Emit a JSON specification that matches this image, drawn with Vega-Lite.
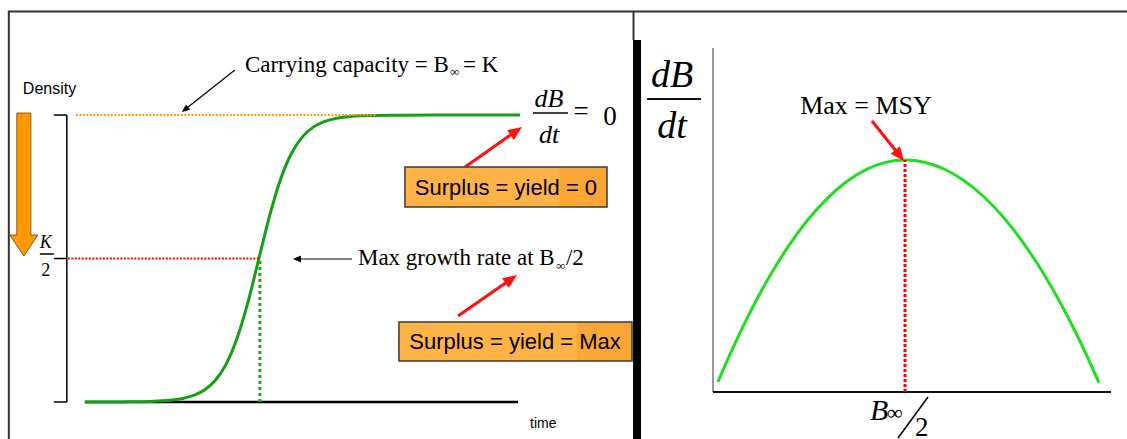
{
  "$schema": "https://vega.github.io/schema/vega-lite/v6.json",
  "width": 1127,
  "height": 439,
  "padding": 0,
  "autosize": {"type": "none"},
  "background": "white",
  "config": {"view": {"stroke": null}},
  "resolve": {"scale": {"x": "independent", "y": "independent"}},
  "layer": [
    {
      "encoding": {
        "x": {"field": "x", "type": "quantitative", "scale": {"domain": [-1.95, 23.95], "nice": false, "zero": false}, "axis": null},
        "y": {"field": "y", "type": "quantitative", "scale": {"domain": [-12.9, 140.1], "nice": false, "zero": false}, "axis": null}
      },
      "layer": [
        {
          "data": {"values": [
            {"x": -1.77, "y": 136.06, "x2": 23.95, "y2": 136.06},
            {"x": -1.747, "y": 136.06, "x2": -1.747, "y2": -12.9},
            {"x": 12.609, "y": 136.06, "x2": 12.609, "y2": 126.13}
          ]},
          "mark": {"type": "rule", "color": "#333333", "strokeWidth": 2},
          "encoding": {"x2": {"field": "x2"}, "y2": {"field": "y2"}}
        },
        {
          "data": {"values": [{"x": 12.598, "x2": 12.782, "y": 126.13, "y2": -12.9}]},
          "mark": {"type": "rect", "color": "black"},
          "encoding": {"x2": {"field": "x2"}, "y2": {"field": "y2"}}
        },
        {
          "data": {"values": [
            {"x": -0.414, "y": 0, "x2": -0.414, "y2": 100},
            {"x": -0.713, "y": 0, "x2": -0.414, "y2": 0},
            {"x": -0.713, "y": 50, "x2": -0.414, "y2": 50},
            {"x": -0.713, "y": 100, "x2": -0.414, "y2": 100},
            {"x": -1.034, "y": 51.57, "x2": -0.713, "y2": 51.57},
            {"x": 10.299, "y": 100.7, "x2": 11.103, "y2": 100.7}
          ]},
          "mark": {"type": "rule", "color": "black", "strokeWidth": 1.5},
          "encoding": {"x2": {"field": "x2"}, "y2": {"field": "y2"}}
        },
        {
          "data": {"values": [{"x": 0, "y": 0, "x2": 9.954, "y2": 0}]},
          "mark": {"type": "rule", "color": "black", "strokeWidth": 2.5},
          "encoding": {"x2": {"field": "x2"}, "y2": {"field": "y2"}}
        },
        {
          "data": {"values": [
            {"x": 0, "y": 0.005}, {"x": 0.5, "y": 0.016}, {"x": 1, "y": 0.055}, {"x": 1.5, "y": 0.19},
            {"x": 2, "y": 0.67}, {"x": 2.25, "y": 1.24}, {"x": 2.5, "y": 2.3}, {"x": 2.75, "y": 4.21},
            {"x": 3, "y": 7.59}, {"x": 3.25, "y": 13.3}, {"x": 3.5, "y": 22.27}, {"x": 3.75, "y": 34.87},
            {"x": 4, "y": 50}, {"x": 4.25, "y": 65.13}, {"x": 4.5, "y": 77.73}, {"x": 4.75, "y": 86.7},
            {"x": 5, "y": 92.41}, {"x": 5.25, "y": 95.79}, {"x": 5.5, "y": 97.7}, {"x": 5.75, "y": 98.76},
            {"x": 6, "y": 99.33}, {"x": 6.5, "y": 99.81}, {"x": 7, "y": 99.94}, {"x": 8, "y": 100},
            {"x": 9, "y": 100}, {"x": 10, "y": 100}
          ]},
          "mark": {"type": "line", "color": "#14a014", "strokeWidth": 3, "interpolate": "monotone"}
        },
        {
          "data": {"values": [{"x": -0.207, "y": 100, "x2": 6.713, "y2": 100}]},
          "mark": {"type": "rule", "color": "#ff9a00", "strokeWidth": 2, "strokeDash": [2, 1.5]},
          "encoding": {"x2": {"field": "x2"}, "y2": {"field": "y2"}}
        },
        {
          "data": {"values": [{"x": -0.391, "y": 50, "x2": 4.023, "y2": 50}]},
          "mark": {"type": "rule", "color": "#ff0000", "strokeWidth": 2, "strokeDash": [2, 1.5]},
          "encoding": {"x2": {"field": "x2"}, "y2": {"field": "y2"}}
        },
        {
          "data": {"values": [{"x": 4.023, "y": 0, "x2": 4.023, "y2": 50}]},
          "mark": {"type": "rule", "color": "#1aab1a", "strokeWidth": 3, "strokeDash": [3, 3]},
          "encoding": {"x2": {"field": "x2"}, "y2": {"field": "y2"}}
        },
        {
          "data": {"values": [
            {"x": 3.448, "y": 115.68, "x2": 2.301, "y2": 101.92},
            {"x": 6.138, "y": 49.83, "x2": 4.874, "y2": 49.83}
          ]},
          "mark": {"type": "rule", "color": "black", "strokeWidth": 1.2},
          "encoding": {"x2": {"field": "x2"}, "y2": {"field": "y2"}}
        },
        {
          "data": {"values": [{"x": 2.301, "y": 101.92}]},
          "mark": {"type": "point", "shape": "M0,-1L0.85,1L-0.85,1Z", "size": 64, "filled": true, "color": "black", "opacity": 1, "angle": 231.6}
        },
        {
          "data": {"values": [{"x": 4.874, "y": 49.83}]},
          "mark": {"type": "point", "shape": "M0,-1L0.85,1L-0.85,1Z", "size": 64, "filled": true, "color": "black", "opacity": 1, "angle": 270}
        },
        {
          "data": {"values": [
            {"x": 8.736, "y": 81.88, "x2": 9.915, "y2": 94.43},
            {"x": 8.575, "y": 29.97, "x2": 9.799, "y2": 42.86}
          ]},
          "mark": {"type": "rule", "color": "#ff1111", "strokeWidth": 3},
          "encoding": {"x2": {"field": "x2"}, "y2": {"field": "y2"}}
        },
        {
          "data": {"values": [{"x": 9.915, "y": 94.43}, {"x": 9.799, "y": 42.86}]},
          "mark": {"type": "point", "shape": "M0,-1L0.85,1L-0.85,1Z", "size": 196, "filled": true, "color": "#ff1111", "opacity": 1, "angle": 55}
        },
        {
          "data": {"values": [{"x": -1.402, "y": 75.78}]},
          "mark": {"type": "point", "shape": "M-0.098,-1L0.098,-1L0.098,0.706L0.196,0.706L0,1L-0.196,0.706L-0.098,0.706Z", "size": 20449, "filled": true, "fill": "#ff9900", "stroke": "#8a5a10", "strokeWidth": 1, "opacity": 1}
        },
        {
          "data": {"values": [
            {"x": 7.356, "x2": 12.0, "y": 81.88, "y2": 67.94},
            {"x": 7.218, "x2": 12.575, "y": 27.87, "y2": 14.29}
          ]},
          "mark": {"type": "rect", "fill": {"gradient": "linear", "stops": [{"offset": 0, "color": "#ffb245"}, {"offset": 0.76, "color": "#ffb245"}, {"offset": 0.77, "color": "#faa634"}, {"offset": 1, "color": "#faa634"}]}, "stroke": "#3a3a3a", "strokeWidth": 1.5},
          "encoding": {"x2": {"field": "x2"}, "y2": {"field": "y2"}}
        },
        {
          "data": {"values": [
            {"x": 9.678, "y": 74.74, "text": "Surplus = yield = 0"},
            {"x": 9.885, "y": 20.91, "text": "Surplus = yield = Max"}
          ]},
          "mark": {"type": "text", "font": "Liberation Sans", "fontSize": 22, "align": "center", "baseline": "middle", "color": "black"},
          "encoding": {"text": {"field": "text", "type": "nominal"}}
        },
        {
          "data": {"values": [
            {"x": 3.678, "y": 114.98, "text": "Carrying capacity = B"},
            {"x": 8.69, "y": 114.98, "text": "= K"},
            {"x": 6.276, "y": 47.74, "text": "Max growth rate at B"},
            {"x": 11.057, "y": 47.74, "text": "/2"}
          ]},
          "mark": {"type": "text", "font": "Liberation Serif", "fontSize": 23, "align": "left", "baseline": "alphabetic", "color": "black"},
          "encoding": {"text": {"field": "text", "type": "nominal"}}
        },
        {
          "data": {"values": [
            {"x": 8.391, "y": 113.59, "text": "∞"},
            {"x": 10.828, "y": 45.99, "text": "∞"}
          ]},
          "mark": {"type": "text", "font": "Liberation Serif", "fontSize": 13, "align": "left", "baseline": "alphabetic", "color": "black"},
          "encoding": {"text": {"field": "text", "type": "nominal"}}
        },
        {
          "data": {"values": [{"x": -1.425, "y": 107.3, "text": "Density"}]},
          "mark": {"type": "text", "font": "Liberation Sans", "fontSize": 16, "align": "left", "baseline": "alphabetic", "color": "black"},
          "encoding": {"text": {"field": "text", "type": "nominal"}}
        },
        {
          "data": {"values": [{"x": 10.23, "y": -9.06, "text": "time"}]},
          "mark": {"type": "text", "font": "Liberation Sans", "fontSize": 14, "align": "left", "baseline": "alphabetic", "color": "black"},
          "encoding": {"text": {"field": "text", "type": "nominal"}}
        },
        {
          "data": {"values": [
            {"x": 10.667, "y": 102.79, "text": "dB"},
            {"x": 10.667, "y": 90.24, "text": "dt"}
          ]},
          "mark": {"type": "text", "font": "Liberation Serif", "fontStyle": "italic", "fontSize": 26, "align": "center", "baseline": "alphabetic", "color": "black"},
          "encoding": {"text": {"field": "text", "type": "nominal"}}
        },
        {
          "data": {"values": [
            {"x": 11.402, "y": 98.43, "text": "="},
            {"x": 12.069, "y": 96.52, "text": "0"}
          ]},
          "mark": {"type": "text", "font": "Liberation Serif", "fontSize": 27, "align": "center", "baseline": "alphabetic", "color": "black"},
          "encoding": {"text": {"field": "text", "type": "nominal"}}
        },
        {
          "data": {"values": [{"x": -0.897, "y": 53.66, "text": "K"}]},
          "mark": {"type": "text", "font": "Liberation Serif", "fontStyle": "italic", "fontSize": 18, "align": "center", "baseline": "alphabetic", "color": "black"},
          "encoding": {"text": {"field": "text", "type": "nominal"}}
        },
        {
          "data": {"values": [{"x": -0.897, "y": 43.9, "text": "2"}]},
          "mark": {"type": "text", "font": "Liberation Serif", "fontSize": 18, "align": "center", "baseline": "alphabetic", "color": "black"},
          "encoding": {"text": {"field": "text", "type": "nominal"}}
        }
      ]
    },
    {
      "encoding": {
        "x": {"field": "x", "type": "quantitative", "scale": {"domain": [-182.05, 106.92], "nice": false, "zero": false}, "axis": null},
        "y": {"field": "y", "type": "quantitative", "scale": {"domain": [-5.065, 42.241], "nice": false, "zero": false}, "axis": null}
      },
      "layer": [
        {
          "data": {"values": [{"x": 0.77, "y": 0, "x2": 0.77, "y2": 37.07}]},
          "mark": {"type": "rule", "color": "#777777", "strokeWidth": 1.5},
          "encoding": {"x2": {"field": "x2"}, "y2": {"field": "y2"}}
        },
        {
          "data": {"values": [
            {"x": 0.77, "y": 0, "x2": 102.82, "y2": 0},
            {"x": -16.15, "y": 31.57, "x2": -2.31, "y2": 31.57}
          ]},
          "mark": {"type": "rule", "color": "#111111", "strokeWidth": 2},
          "encoding": {"x2": {"field": "x2"}, "y2": {"field": "y2"}}
        },
        {
          "data": {"values": [{"x": 48.21, "y": -4.957, "x2": 55.9, "y2": -0.539}]},
          "mark": {"type": "rule", "color": "black", "strokeWidth": 1.5},
          "encoding": {"x2": {"field": "x2"}, "y2": {"field": "y2"}}
        },
        {
          "data": {"values": [
            {"x": 2.05, "y": 1.08}, {"x": 5, "y": 3.94}, {"x": 10, "y": 8.36}, {"x": 15, "y": 12.26},
            {"x": 20, "y": 15.64}, {"x": 25, "y": 18.5}, {"x": 30, "y": 20.84}, {"x": 35, "y": 22.66},
            {"x": 40, "y": 23.96}, {"x": 45, "y": 24.74}, {"x": 50, "y": 25}, {"x": 55, "y": 24.76},
            {"x": 60, "y": 24.03}, {"x": 65, "y": 22.82}, {"x": 70, "y": 21.12}, {"x": 75, "y": 18.94},
            {"x": 80, "y": 16.27}, {"x": 85, "y": 13.12}, {"x": 90, "y": 9.48}, {"x": 95, "y": 5.36},
            {"x": 99.74, "y": 1.0}
          ]},
          "mark": {"type": "line", "color": "#22dd22", "strokeWidth": 3, "interpolate": "monotone"}
        },
        {
          "data": {"values": [{"x": 50, "y": 0, "x2": 50, "y2": 25}]},
          "mark": {"type": "rule", "color": "#ff0000", "strokeWidth": 3, "strokeDash": [3, 2]},
          "encoding": {"x2": {"field": "x2"}, "y2": {"field": "y2"}}
        },
        {
          "data": {"values": [{"x": 41.54, "y": 29.2, "x2": 48.62, "y2": 25.48}]},
          "mark": {"type": "rule", "color": "#ff1111", "strokeWidth": 3},
          "encoding": {"x2": {"field": "x2"}, "y2": {"field": "y2"}}
        },
        {
          "data": {"values": [{"x": 48.62, "y": 25.48}]},
          "mark": {"type": "point", "shape": "M0,-1L0.85,1L-0.85,1Z", "size": 196, "filled": true, "color": "#ff1111", "opacity": 1, "angle": 141.3}
        },
        {
          "data": {"values": [
            {"x": -9.74, "y": 32.87, "text": "dB"},
            {"x": -9.74, "y": 27.37, "text": "dt"}
          ]},
          "mark": {"type": "text", "font": "Liberation Serif", "fontStyle": "italic", "fontSize": 38, "align": "center", "baseline": "alphabetic", "color": "black"},
          "encoding": {"text": {"field": "text", "type": "nominal"}}
        },
        {
          "data": {"values": [{"x": 40.0, "y": 29.92, "text": "Max = MSY"}]},
          "mark": {"type": "text", "font": "Liberation Serif", "fontSize": 26, "align": "center", "baseline": "alphabetic", "color": "black"},
          "encoding": {"text": {"field": "text", "type": "nominal"}}
        },
        {
          "data": {"values": [{"x": 41.03, "y": -3.017, "text": "B"}]},
          "mark": {"type": "text", "font": "Liberation Serif", "fontStyle": "italic", "fontSize": 30, "align": "left", "baseline": "alphabetic", "color": "black"},
          "encoding": {"text": {"field": "text", "type": "nominal"}}
        },
        {
          "data": {"values": [{"x": 45.38, "y": -3.017, "text": "∞"}]},
          "mark": {"type": "text", "font": "Liberation Serif", "fontSize": 22, "align": "left", "baseline": "alphabetic", "color": "black"},
          "encoding": {"text": {"field": "text", "type": "nominal"}}
        },
        {
          "data": {"values": [{"x": 54.3, "y": -4.75, "text": "2"}]},
          "mark": {"type": "text", "font": "Liberation Serif", "fontSize": 27, "align": "center", "baseline": "alphabetic", "color": "black"},
          "encoding": {"text": {"field": "text", "type": "nominal"}}
        }
      ]
    }
  ]
}
